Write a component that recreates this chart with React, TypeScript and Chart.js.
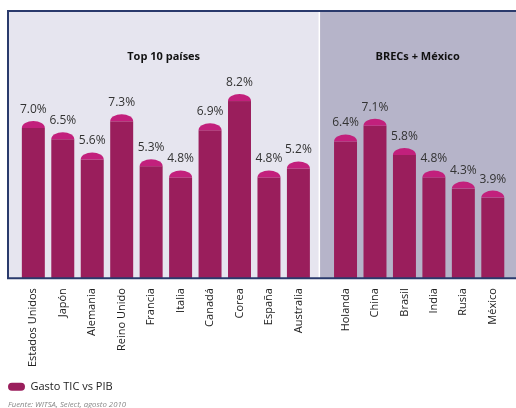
import React, { useEffect, useRef } from 'react';
import { Chart, registerables } from 'chart.js';

Chart.register(...registerables);

// ---- Data ----
const categories = [
  'Estados Unidos', 'Japón', 'Alemania', 'Reino Unido', 'Francia', 'Italia', 'Canadá', 'Corea', 'España', 'Australia',
  'Holanda', 'China', 'Brasil', 'India', 'Rusia', 'México',
];
const values = [7.0, 6.5, 5.6, 7.3, 5.3, 4.8, 6.9, 8.2, 4.8, 5.2, 6.4, 7.1, 5.8, 4.8, 4.3, 3.9];
const groupTitles = ['Top 10 países', 'BRECs + México'];
const groupSizes = [10, 6];
const seriesLabel = 'Gasto TIC vs PIB';
const sourceNote = 'Fuente: WITSA, Select, agosto 2010';

// ---- Layout / style ----
const GROUP_GAP = 1.6; // slot distance between groups
const DIVIDER_OFFSET = 0.71; // divider after last bar of a group (slot units)
const X_MIN = -0.86;
const X_MAX = 16.26;
const Y_MAX = 11.9;
const CAP_H = 7;
const X_AXIS_HEIGHT = 103;
const FONT = '"Open Sans", "Noto Sans", sans-serif';
const BODY = '#9a1e5c';
const CAP = '#c2207c';
const PANEL_COLORS = ['#e6e5ef', '#b6b4c9'];
const NAVY = '#2a3a6c';

const positions: number[] = [];
const groupStarts: number[] = [];
{
  let p = 0;
  groupSizes.forEach((n) => {
    groupStarts.push(positions.length);
    for (let i = 0; i < n; i++) {
      positions.push(p);
      p += 1;
    }
    p += GROUP_GAP - 1;
  });
}

const panelPlugin = {
  id: 'panels',
  beforeDatasetsDraw(chart: any) {
    const { ctx, chartArea: a, scales } = chart;
    const x = scales.x;
    const w = chart.width;
    const bounds: number[] = [a.left];
    groupSizes.forEach((n, g) => {
      if (g < groupSizes.length - 1) {
        const last = positions[groupStarts[g] + n - 1];
        bounds.push(x.getPixelForValue(last + DIVIDER_OFFSET));
      }
    });
    bounds.push(w);
    ctx.save();
    for (let g = 0; g < groupSizes.length; g++) {
      ctx.fillStyle = PANEL_COLORS[g % PANEL_COLORS.length];
      ctx.fillRect(bounds[g], a.top, bounds[g + 1] - bounds[g], a.bottom - a.top);
    }
    // dividers
    ctx.strokeStyle = '#ffffff';
    ctx.lineWidth = 1.5;
    for (let g = 1; g < groupSizes.length; g++) {
      ctx.beginPath();
      ctx.moveTo(bounds[g], a.top);
      ctx.lineTo(bounds[g], a.bottom);
      ctx.stroke();
    }
    // group titles
    ctx.fillStyle = '#111';
    ctx.font = `bold 11px ${FONT}`;
    ctx.textAlign = 'center';
    ctx.textBaseline = 'middle';
    for (let g = 0; g < groupSizes.length; g++) {
      ctx.fillText(groupTitles[g], (bounds[g] + bounds[g + 1]) / 2, a.top + 46);
    }
    ctx.restore();
  },
  afterDatasetsDraw(chart: any) {
    const { ctx, chartArea: a } = chart;
    const w = chart.width;
    ctx.save();
    // frame
    ctx.strokeStyle = NAVY;
    ctx.lineWidth = 2;
    ctx.beginPath();
    ctx.moveTo(w, a.top);
    ctx.lineTo(a.left, a.top);
    ctx.lineTo(a.left, a.bottom);
    ctx.lineTo(w, a.bottom);
    ctx.stroke();
    // value labels
    const meta = chart.getDatasetMeta(0);
    ctx.fillStyle = '#333';
    ctx.font = `12px ${FONT}`;
    ctx.textAlign = 'center';
    ctx.textBaseline = 'alphabetic';
    meta.data.forEach((el: any, i: number) => {
      const { x, y } = el.getProps(['x', 'y'], true);
      ctx.fillText(values[i].toFixed(1) + '%', x, y - 8);
    });
    ctx.restore();
  },
  beforeDatasetDraw(chart: any, args: any) {
    const ctx = chart.ctx;
    const a = chart.chartArea;
    ctx.save();
    ctx.beginPath();
    ctx.rect(a.left, a.top, a.right - a.left, a.bottom - a.top);
    ctx.clip();
    args.meta.data.forEach((el: any) => {
      const { x, y, base, width } = el.getProps(['x', 'y', 'base', 'width'], true);
      const left = x - width / 2;
      ctx.fillStyle = BODY;
      ctx.fillRect(left, y + CAP_H, width, base - y - CAP_H);
      ctx.fillStyle = CAP;
      ctx.beginPath();
      ctx.ellipse(x, y + CAP_H, width / 2, CAP_H, 0, Math.PI, 2 * Math.PI);
      ctx.closePath();
      ctx.fill();
    });
    ctx.restore();
    return false;
  },
};

export default function App() {
  const ref = useRef<HTMLCanvasElement | null>(null);
  useEffect(() => {
    if (!ref.current) return;
    const chart = new Chart(ref.current, {
      type: 'bar',
      data: {
        datasets: [
          {
            label: seriesLabel,
            data: positions.map((x, i) => ({ x, y: values[i] })),
            backgroundColor: BODY,
            borderWidth: 0,
            categoryPercentage: 1,
            barPercentage: 0.78,
          },
        ],
      },
      options: {
        responsive: false,
        animation: false,
        layout: { padding: { left: 8, right: 0, top: 11, bottom: 0 } },
        scales: {
          x: {
            type: 'linear',
            min: X_MIN,
            max: X_MAX,
            offset: false,
            afterBuildTicks: (axis: any) => {
              axis.ticks = positions.map((v) => ({ value: v }));
            },
            afterFit: (axis: any) => {
              axis.height = X_AXIS_HEIGHT;
            },
            grid: { display: false, drawTicks: false, offset: false },
            border: { display: false },
            ticks: {
              autoSkip: false,
              minRotation: 90,
              maxRotation: 90,
              padding: 10,
              color: '#222',
              font: { family: FONT, size: 11 },
              callback: (_v: any, i: number) => categories[i],
            },
          },
          y: { display: false, min: 0, max: Y_MAX },
        },
        plugins: {
          legend: {
            position: 'bottom',
            align: 'start',
            labels: {
              boxWidth: 17,
              boxHeight: 8,
              padding: 0,
              color: '#222',
              font: { family: FONT, size: 11 },
              useBorderRadius: true,
              borderRadius: 4,
            },
          },
          subtitle: {
            display: true,
            text: sourceNote,
            position: 'bottom',
            align: 'start',
            color: '#888',
            font: { family: FONT, size: 7.8, style: 'italic', lineHeight: 0.75 },
            padding: { top: 0, bottom: 0 },
          },
          tooltip: { enabled: false },
        },
      } as any,
      plugins: [panelPlugin],
    });
    return () => chart.destroy();
  }, []);
  return (
    <div style={{ position: 'fixed', left: 0, top: 0, width: 516, height: 408, background: '#fff' }}>
      <canvas ref={ref} width={516} height={408} style={{ display: 'block' }} />
    </div>
  );
}
